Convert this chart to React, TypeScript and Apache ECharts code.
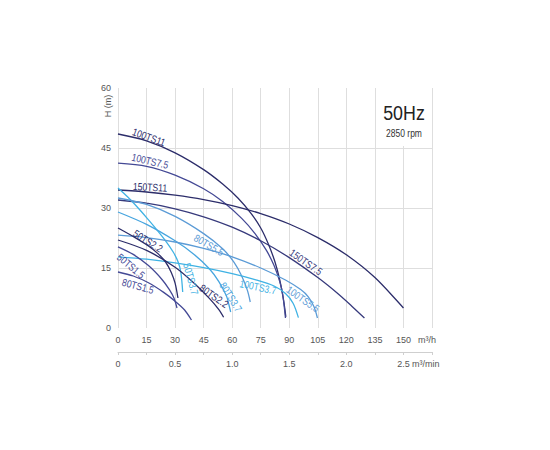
import * as echarts from 'echarts';
import { useEffect, useRef } from 'react';

// flow (m³/h) / head (m) pairs
const c100TS11 = [[0, 48.5], [15, 46.8], [30, 43.8], [45, 39.6], [55, 36], [63, 32.5], [70, 28.6], [75, 25], [79, 21], [82.5, 16.5], [85, 12], [87, 7], [88.2, 2.8]];
const c100TS75 = [[0, 41.2], [15, 40.4], [30, 38.2], [45, 34.8], [55, 31.6], [65, 27.4], [72, 23.6], [78, 19.4], [82, 15.6], [85, 11.6], [86.5, 8.5], [88, 2.5]];
const c150TS11 = [[0, 34.5], [15, 34], [30, 33.2], [45, 32.1], [60, 30.6], [75, 28.6], [90, 26], [105, 22.6], [120, 18.3], [135, 12.6], [150, 5]];
const c150TS75 = [[0, 32], [15, 31.2], [30, 29.8], [45, 27.8], [60, 25.2], [75, 21.8], [90, 17.6], [105, 12.6], [115, 8.8], [123, 5.4], [129.5, 2.5]];
const c50TS37 = [[0, 35], [5, 32.8], [10, 30.3], [15, 27.6], [20, 24.8], [25, 21.8], [29, 19], [31.5, 16.6], [33, 14], [34, 9]];
const c80TS55 = [[0, 32.5], [15, 30.9], [30, 27.9], [45, 23.6], [55, 19.8], [61, 16.4], [65, 13], [68, 9.4], [69.5, 6.5]];
const c80TS37 = [[0, 29], [15, 25.9], [30, 21.8], [40, 18.4], [48, 14.8], [53, 11.6], [57, 8], [58.2, 6], [59.2, 4]];
const c100TS55 = [[0, 23.2], [15, 22.6], [30, 21.5], [45, 19.9], [60, 17.8], [75, 15], [88, 12], [96, 9.6], [100, 7.8], [103, 5.3], [104.8, 2.5]];
const c100TS37 = [[0, 17.8], [15, 17.2], [30, 16.3], [45, 15.1], [60, 13.6], [72, 12.1], [82, 10.5], [88, 8.6], [92, 6.2], [94.8, 2.6]];
const c50TS22 = [[0, 25], [9, 22.6], [16, 20.5], [21, 18.6], [25, 16.5], [28, 13.9], [30, 11.2], [31.5, 7.5]];
const c50TS15 = [[0, 20.3], [8, 18.4], [16, 15.6], [23, 12.2], [27, 9.6], [29.5, 7.4], [31, 5]];
const c80TS22 = [[0, 22], [15, 19.4], [30, 15.2], [40, 11.2], [48, 7.4], [53, 4.6], [55.5, 2.7]];
const c80TS15 = [[0, 14], [8, 13], [16, 11.3], [24, 8.9], [30, 6.7], [35, 4.5], [38.6, 2]];

const PUMP_NAMES = ['100TS11', '100TS7.5', '150TS11', '150TS7.5', '50TS3.7', '80TS5.5', '80TS3.7', '100TS5.5', '100TS3.7', '50TS2.2', '50TS1.5', '80TS2.2', '80TS1.5'];
const PUMP_CURVES = [c100TS11, c100TS75, c150TS11, c150TS75, c50TS37, c80TS55, c80TS37, c100TS55, c100TS37, c50TS22, c50TS15, c80TS22, c80TS15];

const FLOW_H_TICKS = [0, 15, 30, 45, 60, 75, 90, 105, 120, 135, 150];
const FLOW_MIN_TICKS = ['0', '0.5', '1.0', '1.5', '2.0', '2.5'];
const HEAD_TICKS = [0, 15, 30, 45, 60];

const NAVY = '#2c2d6a';
const MID = '#444995';
const CYAN = '#3fb2e4';
const STEEL = '#5b9bd6';

const COLORS: Record<string, string> = {
  '100TS11': NAVY,
  '100TS7.5': MID,
  '150TS11': NAVY,
  '150TS7.5': '#373a7c',
  '50TS3.7': CYAN,
  '80TS5.5': STEEL,
  '80TS3.7': '#47a5df',
  '100TS5.5': STEEL,
  '100TS3.7': CYAN,
  '50TS2.2': NAVY,
  '50TS1.5': MID,
  '80TS2.2': NAVY,
  '80TS1.5': MID,
};

// label placement in page pixels, rotation in degrees
const LABELS: [string, number, number, number][] = [
  ['100TS11', 149, 137, -20],
  ['100TS7.5', 150, 161, -13],
  ['150TS11', 150, 187, -3],
  ['150TS7.5', 306, 262, -35],
  ['100TS5.5', 303, 299, -35],
  ['100TS3.7', 258, 287, -12],
  ['80TS3.7', 231, 297, -58],
  ['80TS5.5', 209, 245, -30],
  ['50TS3.7', 191, 279, -75],
  ['50TS2.2', 148, 241, -32],
  ['80TS2.2', 214, 296, -35],
  ['50TS1.5', 131, 266, -40],
  ['80TS1.5', 138, 286, -15],
];

const FONT = "'Liberation Sans', Arial, sans-serif";

export default function App() {
  const chartRef = useRef<HTMLDivElement>(null);

  useEffect(() => {
    if (!chartRef.current) return;
    const chart = echarts.init(chartRef.current, undefined, { renderer: 'svg' });

    const series = PUMP_NAMES.map((name, i) => ({
      name,
      type: 'line',
      xAxisIndex: 0,
      data: PUMP_CURVES[i],
      smooth: 0.3,
      showSymbol: false,
      symbol: 'none',
      lineStyle: { color: COLORS[name], width: 1.3 },
      z: 3,
    }));

    // squeezed horizontally to mimic the original's narrow typeface
    const labelTexts = LABELS.map(([text, x, y, rot]) => ({
      type: 'text',
      x,
      y,
      rotation: (rot * Math.PI) / 180,
      scaleX: 0.82,
      z: 10,
      style: {
        text,
        fill: COLORS[text],
        fontSize: 10.5,
        fontFamily: FONT,
        align: 'center',
        verticalAlign: 'middle',
      },
    }));

    chart.setOption({
      animation: false,
      backgroundColor: '#fff',
      textStyle: { fontFamily: FONT },
      grid: { left: 118, right: 118, top: 88, bottom: 122 },
      xAxis: [
        {
          type: 'value',
          position: 'bottom',
          min: 0,
          max: 165,
          interval: 15,
          axisLine: { show: false },
          axisTick: { show: false },
          axisLabel: {
            fontSize: 9,
            color: '#555',
            margin: 7,
            fontFamily: FONT,
            formatter: (v: number) => (FLOW_H_TICKS.includes(v) ? String(v) : ''),
          },
          splitLine: { show: true, lineStyle: { color: '#dedede', width: 1 } },
        },
        {
          type: 'value',
          position: 'bottom',
          offset: 24,
          min: 0,
          max: 2.75,
          interval: 0.25,
          axisLine: { show: true, lineStyle: { color: '#cfcfcf', width: 1 } },
          axisTick: { show: true, length: 3, lineStyle: { color: '#cfcfcf' } },
          axisLabel: {
            fontSize: 9,
            color: '#555',
            margin: 7,
            fontFamily: FONT,
            formatter: (v: number) => {
              const k = Math.round(v * 4);
              return k % 2 === 0 && k / 2 < FLOW_MIN_TICKS.length ? FLOW_MIN_TICKS[k / 2] : '';
            },
          },
          splitLine: { show: false },
        },
      ],
      yAxis: {
        type: 'value',
        min: 0,
        max: 60,
        interval: 15,
        axisLine: { show: false },
        axisTick: { show: false },
        axisLabel: {
          fontSize: 9,
          color: '#555',
          margin: 7,
          fontFamily: FONT,
          formatter: (v: number) => (HEAD_TICKS.includes(v) ? String(v) : ''),
        },
        splitLine: { show: true, showMinLine: false, showMaxLine: false, lineStyle: { color: '#dedede', width: 1 } },
      },
      graphic: [
        { type: 'rect', shape: { x: 377, y: 85, width: 53, height: 61 }, style: { fill: '#fff' }, z: 1 },
        {
          type: 'text', x: 404, y: 112, scaleX: 0.85, z: 10,
          style: { text: '50Hz', fill: '#222', fontSize: 21, fontFamily: FONT, align: 'center', verticalAlign: 'middle' },
        },
        {
          type: 'text', x: 404, y: 134, scaleX: 0.85, z: 10,
          style: { text: '2850 rpm', fill: '#333', fontSize: 10, fontFamily: FONT, align: 'center', verticalAlign: 'middle' },
        },
        {
          type: 'text', x: 108, y: 106, rotation: Math.PI / 2, z: 10,
          style: { text: 'H (m)', fill: '#555', fontSize: 9, fontFamily: FONT, align: 'center', verticalAlign: 'middle' },
        },
        {
          type: 'text', x: 418, y: 340, z: 10,
          style: { text: 'm³/h', fill: '#555', fontSize: 9, fontFamily: FONT, align: 'left', verticalAlign: 'middle' },
        },
        {
          type: 'text', x: 412, y: 364, z: 10,
          style: { text: 'm³/min', fill: '#555', fontSize: 9, fontFamily: FONT, align: 'left', verticalAlign: 'middle' },
        },
        ...labelTexts,
      ],
      series,
    });

    return () => {
      chart.dispose();
    };
  }, []);

  return <div ref={chartRef} style={{ position: 'absolute', left: 0, top: 0, width: 550, height: 450 }} />;
}
